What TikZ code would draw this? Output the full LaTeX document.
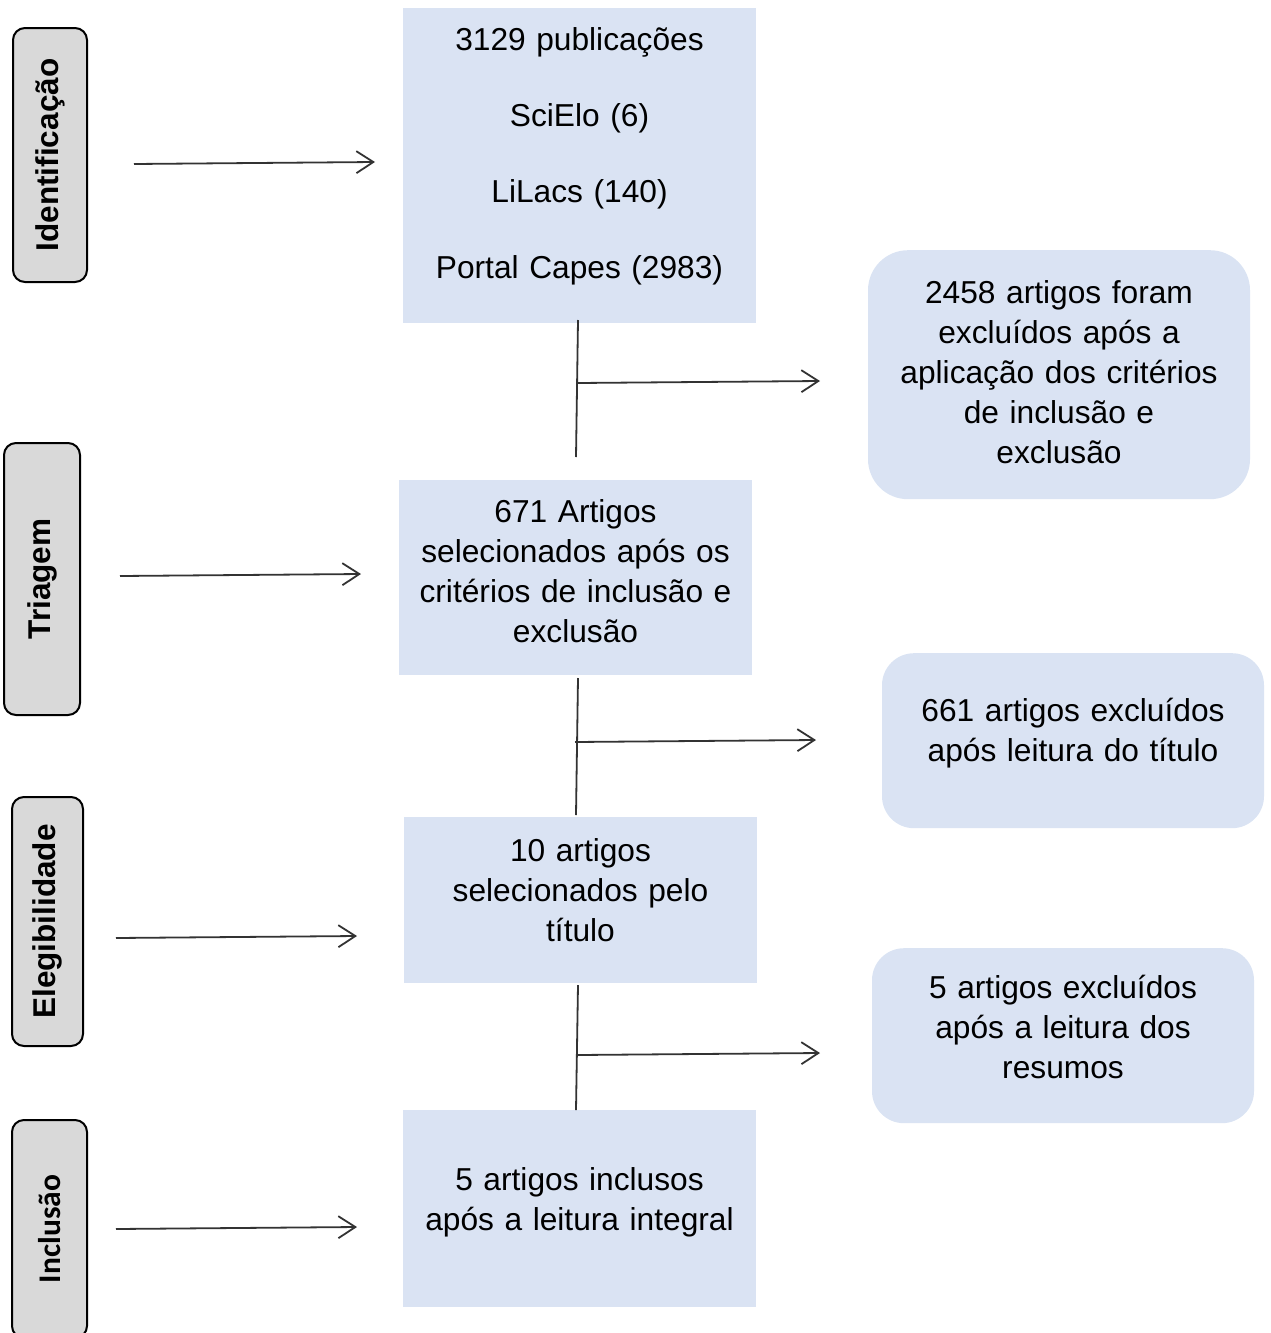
\documentclass[tikz,border=0pt]{standalone}
\usepackage{fontspec}
\setmainfont{Liberation Sans}
\newfontfamily\carlitofont{Carlito}
\usepackage{xcolor}
\usetikzlibrary{arrows.meta,positioning}

\definecolor{boxblue}{HTML}{DAE3F3}
\definecolor{stagegray}{HTML}{D9D9D9}
\definecolor{linkgray}{HTML}{333333}

\tikzset{
    stagebox/.style={draw=black, line width=2pt, fill=stagegray, rounded corners=12pt,
        rotate=90, inner sep=0pt, font=\fontsize{31.5}{38}\selectfont\bfseries},
    blockbox/.style={fill=boxblue, inner sep=0pt, text width=353pt, align=center,
        anchor=north, font=\fontsize{31.7}{40}\selectfont},
    dropbox/.style={fill=boxblue, rounded corners=40pt, inner sep=0pt, text width=382pt,
        align=center, anchor=north, font=\fontsize{31.7}{40}\selectfont},
    link/.style={draw=linkgray, line width=1.8pt},
    flow/.style={link, -{Straight Barb[length=17pt, width=22pt, line width=1.8pt]}}
}

\begin{document}
\begin{tikzpicture}[x=1pt, y=-1pt]
    \useasboundingbox (0,0) rectangle (1271,1333);

    % stages on the left
    \node[stagebox, minimum width=254pt, minimum height=74pt] (ident) at (50,155) {Identificação};
    \node[stagebox, minimum width=272pt, minimum height=76pt] (triag) at (42,579) {Triagem};
    \node[stagebox, minimum width=249pt, minimum height=71pt] (eleg) at (47.5,921.5) {Elegibilidade};
    \node[stagebox, minimum width=218pt, minimum height=75pt,
        font=\fontsize{31.5}{38}\selectfont\carlitofont\bfseries] (incl) at (49.5,1229) {Inclusão};

    % main column
    \node[blockbox, text height=42pt, text depth=273pt] (search) at (579.5,8)
        {3129 publicações\\[36pt] SciElo (6)\\[36pt] LiLacs (140)\\[36pt] Portal Capes (2983)};
    \node[blockbox, text height=42pt, text depth=153pt] (screen) at (575.5,480)
        {671 Artigos\\ selecionados após os\\ critérios de inclusão e\\ exclusão};
    \node[blockbox, text height=44pt, text depth=122pt] (title) at (580.5,817)
        {10 artigos\\ selecionados pelo\\ título};
    \node[blockbox, text height=80pt, text depth=117pt] (final) at (579.5,1110)
        {5 artigos inclusos\\ após a leitura integral};

    % excluded
    \node[dropbox, text height=53pt, text depth=196pt] (drop1) at (1059,250)
        {2458 artigos foram\\ excluídos após a\\ aplicação dos critérios\\ de inclusão e\\ exclusão};
    \node[dropbox, rounded corners=32pt, text height=68pt, text depth=107pt] (drop2) at (1073,653)
        {661 artigos excluídos\\ após leitura do título};
    \node[dropbox, rounded corners=32pt, text height=50pt, text depth=125pt] (drop3) at (1063,948)
        {5 artigos excluídos\\ após a leitura dos\\ resumos};

    % arrow ends
    \coordinate (identout) at (134,164);  \coordinate (identin) at (375,162);
    \coordinate (triagout) at (120,576);  \coordinate (triagin) at (361,574);
    \coordinate (elegout) at (116,938);   \coordinate (elegin) at (357,936);
    \coordinate (inclout) at (116,1229);  \coordinate (inclin) at (357,1227);

    \coordinate (stem1a) at (578,320);  \coordinate (stem1b) at (576,457);
    \coordinate (fork1) at (578,383);   \coordinate (drop1in) at (820,381);
    \coordinate (stem2a) at (578,678);  \coordinate (stem2b) at (576,815);
    \coordinate (fork2) at (575,742);   \coordinate (drop2in) at (816,740);
    \coordinate (stem3a) at (578,985);  \coordinate (stem3b) at (576,1110);
    \coordinate (fork3) at (578,1055);  \coordinate (drop3in) at (820,1053);

    \foreach \a/\b in {identout/identin, triagout/triagin, elegout/elegin, inclout/inclin,
        fork1/drop1in, fork2/drop2in, fork3/drop3in}
        \draw[flow] (\a) -- (\b);
    \foreach \a/\b in {stem1a/stem1b, stem2a/stem2b, stem3a/stem3b}
        \draw[link] (\a) -- (\b);
\end{tikzpicture}
\end{document}
